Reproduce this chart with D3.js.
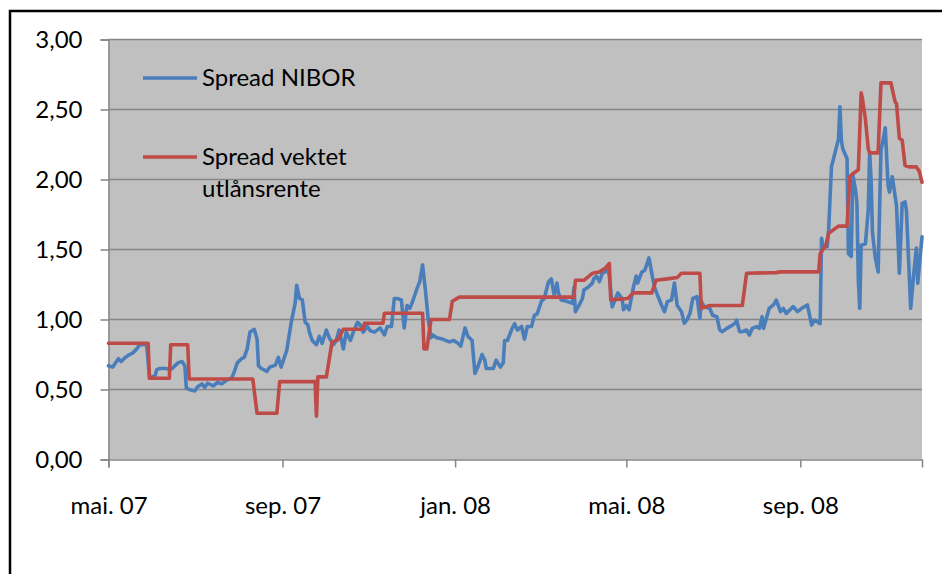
<!DOCTYPE html>
<html lang="no">
<head>
<meta charset="UTF-8">
<title>Spread NIBOR og vektet utlånsrente</title>
<script src="https://d3js.org/d3.v7.min.js"></script>
<style>
  body { margin: 0; background: #fff; }
  svg text { font-family: Lato, "Open Sans", sans-serif; fill: #000; }
</style>
</head>
<body>
<script>
// Spread NIBOR (daglig, lest av figuren)
var nibor = [
  ["2007-05-01",0.67],["2007-05-04",0.66],["2007-05-08",0.72],["2007-05-10",0.70],["2007-05-13",0.73],
  ["2007-05-16",0.75],["2007-05-18",0.76],["2007-05-21",0.79],["2007-05-23",0.82],["2007-05-25",0.82],
  ["2007-05-28",0.82],["2007-05-30",0.58],["2007-06-03",0.60],["2007-06-04",0.64],["2007-06-06",0.65],
  ["2007-06-11",0.65],["2007-06-13",0.64],["2007-06-15",0.65],["2007-06-19",0.69],["2007-06-22",0.70],
  ["2007-06-24",0.67],["2007-06-25",0.51],["2007-06-27",0.50],["2007-07-01",0.49],["2007-07-03",0.52],
  ["2007-07-06",0.54],["2007-07-08",0.515],["2007-07-10",0.545],["2007-07-14",0.525],["2007-07-17",0.55],
  ["2007-07-20",0.54],["2007-07-22",0.556],["2007-07-24",0.57],["2007-07-27",0.58],["2007-07-29",0.63],
  ["2007-07-31",0.69],["2007-08-03",0.72],["2007-08-05",0.73],["2007-08-07",0.79],["2007-08-09",0.91],
  ["2007-08-12",0.93],["2007-08-14",0.86],["2007-08-15",0.67],["2007-08-17",0.65],["2007-08-21",0.63],
  ["2007-08-23",0.66],["2007-08-27",0.675],["2007-08-29",0.73],["2007-08-31",0.66],["2007-09-04",0.78],
  ["2007-09-07",0.97],["2007-09-10",1.12],["2007-09-11",1.245],["2007-09-13",1.15],["2007-09-15",1.14],
  ["2007-09-17",0.98],["2007-09-19",0.96],["2007-09-20",0.91],["2007-09-22",0.85],["2007-09-25",0.82],
  ["2007-09-27",0.88],["2007-09-29",0.83],["2007-10-02",0.925],["2007-10-04",0.87],["2007-10-07",0.82],
  ["2007-10-09",0.85],["2007-10-11",0.925],["2007-10-14",0.79],["2007-10-16",0.91],["2007-10-19",0.85],
  ["2007-10-21",0.91],["2007-10-24",0.98],["2007-10-26",0.96],["2007-10-28",0.91],["2007-10-31",0.95],
  ["2007-11-02",0.92],["2007-11-05",0.91],["2007-11-09",0.94],["2007-11-12",0.89],["2007-11-14",0.95],
  ["2007-11-17",0.95],["2007-11-19",1.15],["2007-11-21",1.15],["2007-11-24",1.14],["2007-11-26",0.94],
  ["2007-11-28",1.10],["2007-11-30",1.08],["2007-12-02",1.13],["2007-12-05",1.22],["2007-12-07",1.27],
  ["2007-12-09",1.39],["2007-12-11",1.21],["2007-12-13",1.00],["2007-12-15",0.87],["2007-12-16",0.89],
  ["2007-12-19",0.87],["2007-12-23",0.86],["2007-12-28",0.84],["2007-12-31",0.85],["2008-01-03",0.83],
  ["2008-01-05",0.81],["2008-01-08",0.94],["2008-01-10",0.88],["2008-01-13",0.85],["2008-01-15",0.615],
  ["2008-01-17",0.66],["2008-01-20",0.75],["2008-01-22",0.71],["2008-01-23",0.65],["2008-01-28",0.65],
  ["2008-01-30",0.71],["2008-02-02",0.66],["2008-02-04",0.69],["2008-02-05",0.85],["2008-02-07",0.85],
  ["2008-02-10",0.93],["2008-02-12",0.97],["2008-02-14",0.925],["2008-02-17",0.95],["2008-02-19",0.86],
  ["2008-02-21",0.95],["2008-02-24",0.95],["2008-02-26",1.03],["2008-02-28",1.04],["2008-03-02",1.13],
  ["2008-03-04",1.15],["2008-03-07",1.27],["2008-03-09",1.29],["2008-03-11",1.175],["2008-03-13",1.26],
  ["2008-03-14",1.19],["2008-03-16",1.14],["2008-03-20",1.13],["2008-03-24",1.115],["2008-03-25",1.23],
  ["2008-03-26",1.056],["2008-03-28",1.09],["2008-03-31",1.15],["2008-04-01",1.21],["2008-04-04",1.23],
  ["2008-04-07",1.26],["2008-04-08",1.29],["2008-04-10",1.31],["2008-04-12",1.27],["2008-04-14",1.33],
  ["2008-04-16",1.34],["2008-04-18",1.365],["2008-04-19",1.31],["2008-04-21",1.09],["2008-04-23",1.14],
  ["2008-04-25",1.19],["2008-04-28",1.15],["2008-04-29",1.07],["2008-05-01",1.10],["2008-05-03",1.07],
  ["2008-05-06",1.23],["2008-05-08",1.31],["2008-05-09",1.26],["2008-05-12",1.34],["2008-05-14",1.35],
  ["2008-05-17",1.44],["2008-05-19",1.33],["2008-05-21",1.23],["2008-05-23",1.175],["2008-05-26",1.10],
  ["2008-05-28",1.056],["2008-05-30",1.127],["2008-06-02",1.14],["2008-06-04",1.26],["2008-06-06",1.10],
  ["2008-06-09",1.056],["2008-06-11",0.973],["2008-06-13",1.00],["2008-06-15",1.044],["2008-06-17",1.15],
  ["2008-06-20",1.163],["2008-06-22",1.008],["2008-06-23",1.13],["2008-06-25",1.09],["2008-06-29",1.08],
  ["2008-07-01",1.03],["2008-07-04",1.02],["2008-07-06",0.925],["2008-07-08",0.913],["2008-07-11",0.937],
  ["2008-07-15",0.96],["2008-07-17",0.973],["2008-07-18",0.996],["2008-07-20",0.913],["2008-07-22",0.913],
  ["2008-07-25",0.925],["2008-07-27",0.889],["2008-07-29",0.937],["2008-08-01",0.949],["2008-08-03",0.937],
  ["2008-08-05",1.02],["2008-08-06",0.937],["2008-08-08",1.008],["2008-08-10",1.08],["2008-08-13",1.104],
  ["2008-08-15",1.139],["2008-08-18",1.056],["2008-08-20",1.08],["2008-08-22",1.044],["2008-08-27",1.092],
  ["2008-08-30",1.056],["2008-09-02",1.08],["2008-09-06",1.104],["2008-09-08",1.008],["2008-09-09",0.96],
  ["2008-09-11",0.996],["2008-09-13",0.985],["2008-09-15",0.97],["2008-09-16",1.58],["2008-09-17",1.52],
  ["2008-09-20",1.52],["2008-09-21",1.64],["2008-09-23",2.09],["2008-09-26",2.21],["2008-09-28",2.29],
  ["2008-09-29",2.52],["2008-09-30",2.28],["2008-10-01",2.22],["2008-10-04",2.15],["2008-10-05",1.47],
  ["2008-10-07",1.45],["2008-10-08",2.04],["2008-10-10",1.925],["2008-10-11",1.83],["2008-10-12",1.28],
  ["2008-10-13",1.08],["2008-10-14",1.53],["2008-10-17",1.54],["2008-10-19",1.78],["2008-10-20",2.19],
  ["2008-10-21",2.00],["2008-10-22",1.62],["2008-10-24",1.44],["2008-10-26",1.34],["2008-10-28",2.21],
  ["2008-10-30",2.31],["2008-10-31",2.37],["2008-11-02",1.96],["2008-11-03",1.91],["2008-11-05",2.02],
  ["2008-11-06",1.95],["2008-11-08",1.81],["2008-11-10",1.33],["2008-11-12",1.83],["2008-11-14",1.84],
  ["2008-11-15",1.78],["2008-11-18",1.08],["2008-11-20",1.31],["2008-11-22",1.51],["2008-11-23",1.26],
  ["2008-11-26",1.59]
];

// Spread vektet utlånsrente
var utlan = [
  ["2007-05-01",0.83],["2007-05-29",0.83],["2007-05-30",0.58],["2007-06-13",0.58],["2007-06-14",0.82],
  ["2007-06-26",0.82],["2007-06-27",0.575],["2007-08-11",0.575],["2007-08-14",0.33],["2007-08-28",0.33],
  ["2007-08-30",0.556],["2007-09-24",0.556],["2007-09-25",0.31],["2007-09-26",0.59],["2007-10-02",0.59],
  ["2007-10-06",0.84],["2007-10-10",0.854],["2007-10-14",0.93],["2007-10-28",0.93],["2007-10-29",0.973],
  ["2007-11-11",0.973],["2007-11-12",1.045],["2007-12-09",1.045],["2007-12-10",0.79],["2007-12-12",0.79],
  ["2007-12-15",1.00],["2007-12-28",1.00],["2007-12-30",1.13],["2008-01-04",1.16],["2008-03-25",1.16],
  ["2008-03-26",1.28],["2008-04-01",1.28],["2008-04-07",1.33],["2008-04-12",1.34],["2008-04-16",1.365],
  ["2008-04-19",1.40],["2008-04-20",1.14],["2008-05-02",1.15],["2008-05-06",1.19],["2008-05-19",1.19],
  ["2008-05-22",1.28],["2008-05-30",1.29],["2008-06-06",1.30],["2008-06-09",1.33],["2008-06-22",1.33],
  ["2008-06-23",1.08],["2008-06-29",1.10],["2008-07-22",1.10],["2008-07-25",1.33],["2008-08-15",1.335],
  ["2008-08-18",1.34],["2008-09-14",1.34],["2008-09-15",1.47],["2008-09-19",1.53],["2008-09-21",1.615],
  ["2008-09-23",1.63],["2008-09-28",1.667],["2008-10-04",1.667],["2008-10-06",2.02],["2008-10-08",2.04],
  ["2008-10-12",2.07],["2008-10-14",2.62],["2008-10-15",2.57],["2008-10-17",2.43],["2008-10-19",2.22],
  ["2008-10-20",2.19],["2008-10-26",2.19],["2008-10-28",2.69],["2008-11-04",2.69],["2008-11-07",2.555],
  ["2008-11-08",2.54],["2008-11-10",2.295],["2008-11-12",2.28],["2008-11-14",2.10],["2008-11-17",2.09],
  ["2008-11-22",2.09],["2008-11-24",2.06],["2008-11-26",1.98]
];

var xTickDates = ["2007-05-01", "2007-09-01", "2008-01-01", "2008-05-01", "2008-09-01"];
var xTickLabels = ["mai. 07", "sep. 07", "jan. 08", "mai. 08", "sep. 08"];
var yTicks = [0, 0.5, 1, 1.5, 2, 2.5, 3];
var seriesNames = ["Spread NIBOR", "Spread vektet|utlånsrente"];
var colors = ["#4a7ebb", "#be4b48"];

var parse = d3.timeParse("%Y-%m-%d");
var fmt = d3.format(".2f");

var width = 942, height = 574;
var svg = d3.select("body").append("svg")
    .attr("width", width)
    .attr("height", height);

// outer frame (cut off at right and bottom)
svg.append("path")
    .attr("d", "M10,574 V11 H942")
    .attr("fill", "none")
    .attr("stroke", "#000")
    .attr("stroke-width", 2.5);

var x = d3.scaleTime()
    .domain([parse("2007-05-01"), parse("2008-11-26")])
    .range([108.5, 922]);
var y = d3.scaleLinear().domain([0, 3]).range([459.5, 39.5]);

// plot area
svg.append("rect")
    .attr("x", x.range()[0])
    .attr("y", y(3))
    .attr("width", x.range()[1] - x.range()[0])
    .attr("height", y(0) - y(3))
    .attr("fill", "#c0c0c0");

// gridlines
svg.append("g").selectAll("line")
    .data(yTicks.slice(1))
    .enter().append("line")
    .attr("x1", x.range()[0]).attr("x2", x.range()[1])
    .attr("y1", function(d){ return y(d); })
    .attr("y2", function(d){ return y(d); })
    .attr("stroke", "#868686")
    .attr("stroke-width", 1.3);

// y axis
var yAxis = svg.append("g")
    .attr("transform", "translate(" + x.range()[0] + ",0)")
    .call(d3.axisLeft(y).tickValues(yTicks).tickSize(8).tickPadding(18)
        .tickFormat(function(d){ return fmt(d).replace(".", ","); }));
yAxis.selectAll("text").attr("font-size", 24).attr("dy", "0.34em")
    .style("font-family", "Lato, 'Open Sans', sans-serif");

// x axis
var xAxis = svg.append("g")
    .attr("transform", "translate(0," + y(0) + ")")
    .call(d3.axisBottom(x).tickValues(xTickDates.map(parse)).tickSize(8).tickPadding(29)
        .tickFormat(function(d, i){ return xTickLabels[i]; }));
xAxis.selectAll("text").attr("font-size", 24)
    .style("font-family", "Lato, 'Open Sans', sans-serif");

svg.selectAll(".domain, .tick line")
    .attr("stroke", "#868686")
    .attr("stroke-width", 1.5);

// lines
var line = d3.line()
    .x(function(d){ return x(parse(d[0])); })
    .y(function(d){ return y(d[1]); });

svg.append("g").selectAll("path")
    .data([nibor, utlan])
    .enter().append("path")
    .attr("d", line)
    .attr("fill", "none")
    .attr("stroke", function(d, i){ return colors[i]; })
    .attr("stroke-width", 3.6)
    .attr("stroke-linejoin", "round")
    .attr("stroke-linecap", "round");

// legend
var legend = svg.append("g").selectAll("g")
    .data(seriesNames)
    .enter().append("g")
    .attr("transform", function(d, i){ return "translate(143," + (78 + i * 79) + ")"; });

legend.append("line")
    .attr("x1", 0).attr("x2", 54)
    .attr("stroke", function(d, i){ return colors[i]; })
    .attr("stroke-width", 3.6);

legend.append("text")
    .attr("x", 59)
    .attr("font-size", 24)
    .selectAll("tspan")
    .data(function(d){ return d.split("|"); })
    .enter().append("tspan")
    .attr("x", 59)
    .attr("y", function(d, i){ return 8 + i * 32; })
    .text(function(d){ return d; });
</script>
</body>
</html>
